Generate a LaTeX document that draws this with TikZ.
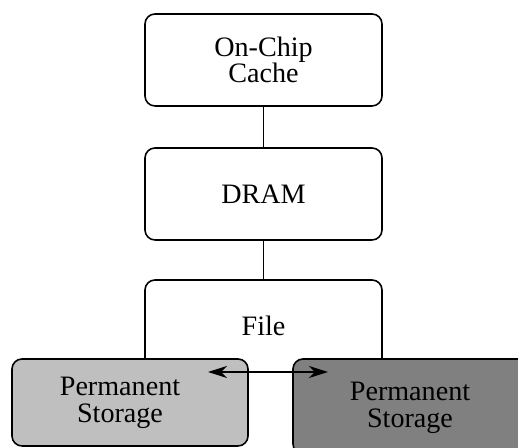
\documentclass[tikz,border=0pt]{standalone}
\usepackage{fontspec}
\setmainfont{Liberation Serif}
\usepackage{xcolor}
\usepackage{tikz}
\usetikzlibrary{positioning,%
  arrows,%
  arrows.meta,%
  calc
}
\definecolor{permlight}{gray}{0.75}
\definecolor{permdark}{gray}{0.5}

\begin{document}
\begin{tikzpicture}
                    [
                        level/.style={draw,rounded corners=0.2cm,fill=white,
                          minimum width=4.74cm,minimum height=1.84cm,align=center},
                        perm/.style={draw,rounded corners=0.2cm,
                          minimum width=4.72cm,minimum height=1.74cm},
                        txt/.style={align=center,inner sep=0pt},
                        every node/.style={font=\fontsize{16}{15}\selectfont},
                        line width=0.9pt
                    ]
                    
                    % Rahmen
                    \useasboundingbox (0,0) rectangle (10.36,8.96);
                    \clip (0,0) rectangle (10.36,8.96);
                    
                    \node[level] (cache) at (5.27,7.76) {On-Chip\\Cache};
                    \node[level] (dram) at (5.27,5.08) {DRAM};
                    \node[level] (file) at (5.27,2.44) {File};
                    
                    \draw (cache) -- (dram);
                    \draw (dram) -- (file);
                    
                    \node[perm,fill=permlight] (permA) at (2.6,0.91) {};
                    \node[perm,fill=permdark,minimum height=1.9cm] (permB) at (8.22,0.83) {};
                    \node[txt] (permAtxt) at (2.4,0.9) {Permanent\\Storage};
                    \node[txt] (permBtxt) at (8.2,0.8) {Permanent\\Storage};
                    
                    \coordinate (arrA) at (4.16,1.52);
                    \coordinate (arrB) at (6.56,1.52);
                    \draw[line width=1.1pt,{Stealth[length=0.38cm,width=0.24cm,inset=0.12cm]}-{Stealth[length=0.38cm,width=0.24cm,inset=0.12cm]}] (arrA) -- (arrB);
                \end{tikzpicture}
\end{document}
